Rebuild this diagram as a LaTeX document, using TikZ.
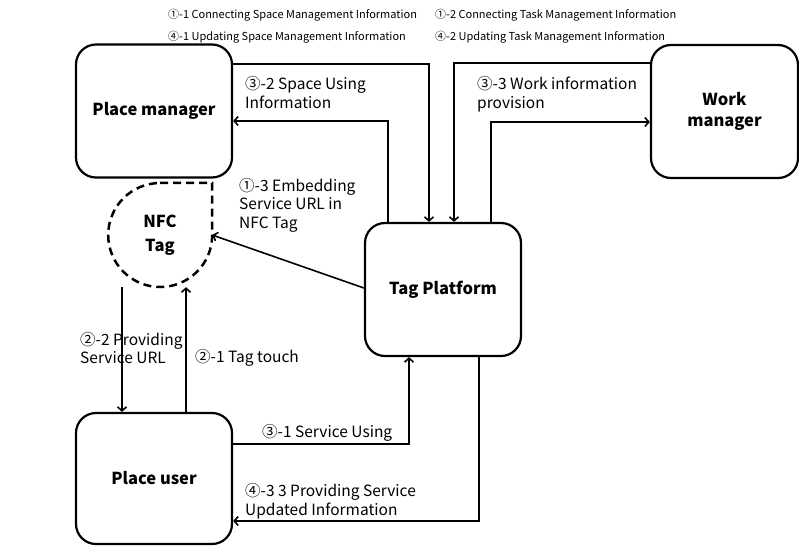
\documentclass[tikz,border=0pt]{standalone}
\usepackage{fontspec}
\setmainfont{Noto Sans CJK KR}
\usetikzlibrary{arrows.meta}
\begin{document}
\begin{tikzpicture}[x=1pt,y=-1pt,
  box/.style={draw,line width=2.2pt,rounded corners=20pt,minimum width=156pt,minimum height=133pt,font=\bfseries\fontsize{16.5}{20.5}\selectfont,align=center},
  arr/.style={line width=1.6pt,-{Straight Barb[length=4pt,width=9pt,line width=1.6pt]}},
  lab/.style={anchor=west,inner sep=0pt,align=left,font=\fontsize{15.5}{18.5}\selectfont},
  toplab/.style={anchor=west,inner sep=0pt,font=\fontsize{11}{13}\selectfont}]
\useasboundingbox (0,0) rectangle (799,546);
\node[box] (pm) at (154,111) {Place manager};
\node[box,minimum width=147pt] (wm) at (724.5,111.5) {Work\\manager};
\node[box] (tp) at (443,289.5) {Tag Platform};
\node[box,minimum height=131pt] (pu) at (154,478.5) {Place user};
\node[circle,minimum size=104pt,inner sep=0pt,align=center,font=\bfseries\fontsize{16.5}{23.5}\selectfont] (nfc) at (160,235) {NFC\\Tag};
\draw[line width=2.5pt,dash pattern=on 8pt off 5pt] (nfc.north) -| (nfc.east) arc[start angle=0,delta angle=-270,radius=52pt];
% top labels
\node[toplab] (t1) at (168,15) {①-1 Connecting Space Management Information};
\node[toplab] (t2) at (168,37) {④-1 Updating Space Management Information};
\node[toplab] (t3) at (435,15) {①-2 Connecting Task Management Information};
\node[toplab] (t4) at (435,37) {④-2 Updating Task Management Information};
% connectors
\draw[arr] (pm.east |- 0,64) -| (429,0 |- tp.north);
\draw[arr] (388,0 |- tp.north) |- (pm.east |- 0,121);
\draw[arr] (wm.west |- 0,63) -| (454,0 |- tp.north);
\draw[arr] (491,0 |- tp.north) |- (wm.west |- 0,122);
\draw[arr] (tp.west |- 0,288) -- (nfc.east);
\draw[arr] (122,0 |- nfc.south) -- (122,0 |- pu.north);
\draw[arr] (186,0 |- pu.north) -- (186,0 |- nfc.south);
\draw[arr] (pu.east |- 0,444) -| (409,0 |- tp.south);
\draw[arr] (479,0 |- tp.south) |- (pu.east |- 0,521);
% labels
\node[lab] (l32) at (245,92.5) {③-2 Space Using\\Information};
\node[lab] (l33) at (477,94) {③-3 Work information\\provision};
\node[lab] (l13) at (239,205) {①-3 Embedding\\Service URL in\\NFC Tag};
\node[lab] (l22) at (80,348) {②-2 Providing\\Service URL};
\node[lab] (l21) at (195,358) {②-1 Tag touch};
\node[lab] (l31) at (262,433) {③-1 Service Using};
\node[lab] (l43) at (245,501) {④-3 3 Providing Service\\Updated Information};
\end{tikzpicture}
\end{document}
